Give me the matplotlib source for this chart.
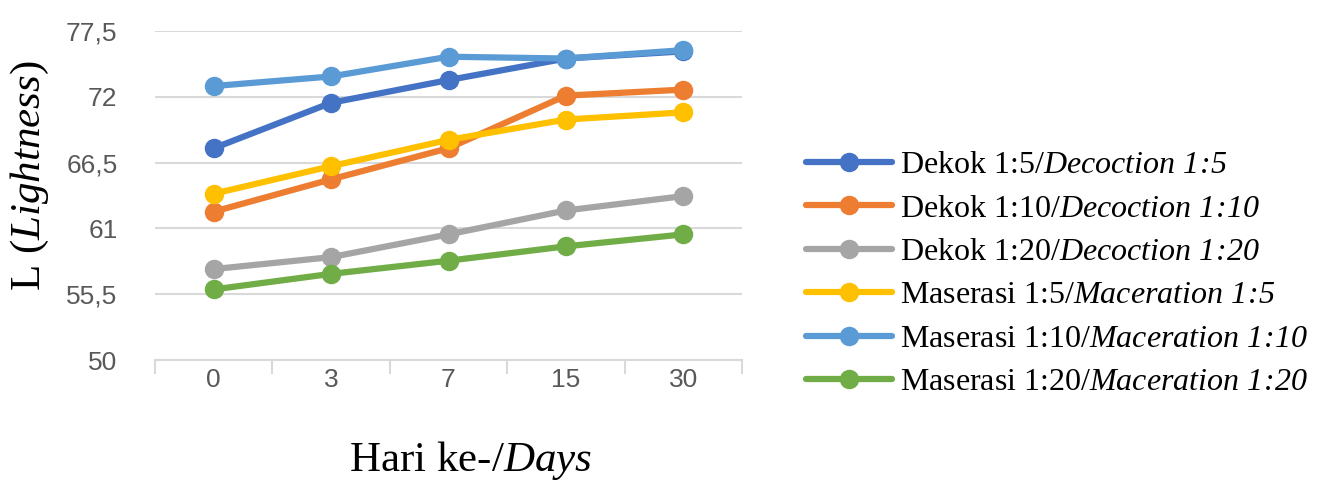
import matplotlib
matplotlib.use("Agg")
import matplotlib.pyplot as plt
import numpy as np

plt.rcParams['mathtext.fontset'] = 'custom'
plt.rcParams['mathtext.rm'] = 'Liberation Serif'
plt.rcParams['mathtext.it'] = 'Liberation Serif:italic'
plt.rcParams['mathtext.sf'] = 'Liberation Serif:italic'

# data
days = ['0', '3', '7', '15', '30']
dekok_5 = [67.7, 71.5, 73.4, 75.2, 75.8]
dekok_10 = [62.4, 65.1, 67.7, 72.1, 72.6]
dekok_20 = [57.6, 58.6, 60.5, 62.5, 63.7]
maserasi_5 = [63.9, 66.2, 68.4, 70.1, 70.7]
maserasi_10 = [72.9, 73.7, 75.35, 75.2, 75.9]
maserasi_20 = [55.9, 57.2, 58.3, 59.5, 60.5]
yticks = [50, 55.5, 61, 66.5, 72, 77.5]
ytick_labels = ['50', '55,5', '61', '66,5', '72', '77,5']

series = [
    (dekok_5, '#4472C4', r'Dekok 1:5/$\mathsf{Decoction\ 1\!:\!5}$'),
    (dekok_10, '#ED7D31', r'Dekok 1:10/$\mathsf{Decoction\ 1\!:\!10}$'),
    (dekok_20, '#A5A5A5', r'Dekok 1:20/$\mathsf{Decoction\ 1\!:\!20}$'),
    (maserasi_5, '#FFC000', r'Maserasi 1:5/$\mathsf{Maceration\ 1\!:\!5}$'),
    (maserasi_10, '#5B9BD5', r'Maserasi 1:10/$\mathsf{Maceration\ 1\!:\!10}$'),
    (maserasi_20, '#70AD47', r'Maserasi 1:20/$\mathsf{Maceration\ 1\!:\!20}$'),
]

fig = plt.figure(figsize=(13.44, 4.84), dpi=100)
ax = fig.add_axes([155/1344, 1-360/484, (742-155)/1344, (360-31)/484])

x = np.arange(len(days))
for vals, col, lab in series:
    ax.plot(x, vals, color=col, lw=4.5, marker='o', ms=13, label=lab,
            solid_capstyle='round', zorder=3)

ax.set_xlim(-0.5, len(days) - 0.5)
ax.set_ylim(50, 77.5)
ax.set_yticks(yticks)
ax.set_yticklabels(ytick_labels)
ax.set_xticks(x)
ax.set_xticklabels(days)
ax.set_xticks(np.arange(-0.5, len(days), 1), minor=True)
ax.tick_params(axis='x', which='major', length=0, pad=6)
ax.tick_params(axis='x', which='minor', length=10, width=1.5, color='#d9d9d9')
ax.tick_params(axis='y', length=0, pad=27)
for lbl in ax.get_xticklabels() + ax.get_yticklabels():
    lbl.set_fontfamily('Liberation Sans')
    lbl.set_fontsize(19)
    lbl.set_color('#595959')

ax.grid(axis='y', color='#d9d9d9', lw=1.5, zorder=0)
for s in ['top', 'right', 'left']:
    ax.spines[s].set_visible(False)
ax.spines['bottom'].set_color('#d9d9d9')
ax.spines['bottom'].set_linewidth(1.5)

ax.set_ylabel(r'L ($\mathit{Lightness}$)', fontfamily='Liberation Serif',
              fontsize=31)
ax.yaxis.set_label_coords(-0.178, 0.56)
ax.set_xlabel(r'Hari ke-/$\mathit{Days}$', fontfamily='Liberation Serif',
              fontsize=31)
ax.xaxis.set_label_coords(0.538, -0.24)

leg = fig.legend(loc='center left', bbox_to_anchor=(806/1344, 1-274/484),
                 frameon=False, prop={'family': 'Liberation Serif', 'size': 23},
                 handlelength=2.7, handletextpad=0.25, labelspacing=0.44,
                 borderpad=0, borderaxespad=0)

fig.savefig("out.png", dpi=100)
